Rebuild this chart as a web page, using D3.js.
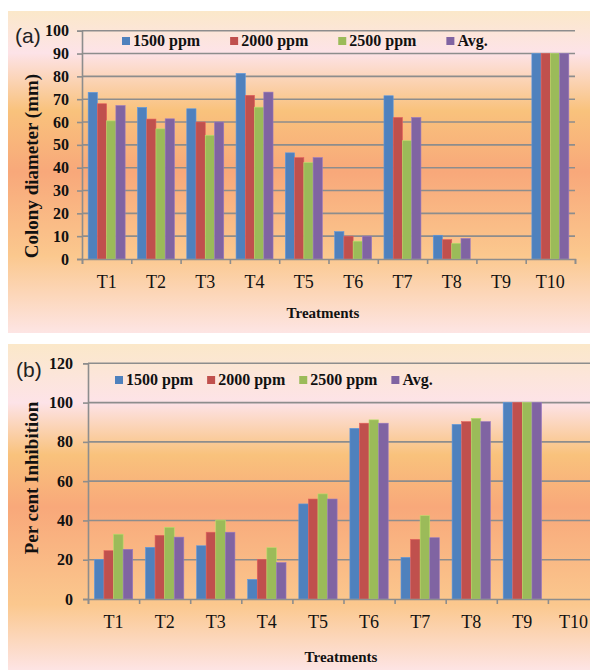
<!DOCTYPE html>
<html>
<head>
<meta charset="utf-8">
<script src="https://cdn.jsdelivr.net/npm/d3@7"></script>
<style>
  html, body { margin: 0; padding: 0; background: #fff; }
  svg { display: block; }
</style>
</head>
<body>
<div id="chart"></div>
<script>
// categories and series
const treatments = ['T1', 'T2', 'T3', 'T4', 'T5', 'T6', 'T7', 'T8', 'T9', 'T10'];
const seriesLabels = ['1500 ppm', '2000 ppm', '2500 ppm', 'Avg.'];
const seriesColors = ['#4f81bd', '#c0504d', '#9bbb59', '#8064a2'];

// (a) colony diameter, mm
const diam1500 = [73, 66.4, 65.8, 81.3, 46.5, 12, 71.5, 10.4, 0, 90];
const diam2000 = [68, 61.3, 60, 71.7, 44.4, 10, 62, 8.5, 0, 90];
const diam2500 = [60.5, 57, 54.2, 66.5, 42.2, 7.8, 51.8, 6.9, 0, 90];
const diamAvg = [67.2, 61.4, 60, 73.1, 44.4, 10, 62, 9, 0, 90];
const diamTicks = [0, 10, 20, 30, 40, 50, 60, 70, 80, 90, 100];

// (b) per cent inhibition
const inhib1500 = [20, 26.3, 27.1, 10, 48.4, 86.9, 21.2, 88.9, 100, 0];
const inhib2000 = [24.6, 32.4, 34, 20.2, 50.9, 89.5, 30.4, 90.3, 100, 0];
const inhib2500 = [33, 36.5, 40.2, 26.1, 53.5, 91.2, 42.4, 92, 100, 0];
const inhibAvg = [25.3, 31.5, 34, 18.5, 50.9, 89.5, 31.2, 90.3, 100, 0];
const inhibTicks = [0, 20, 40, 60, 80, 100, 120];

const W = 590;
const H = 670;
const serif = '"Liberation Serif", "Times New Roman", serif';
const gridColor = '#8d8d8d';

const svg = d3.select('#chart').append('svg')
  .attr('width', W)
  .attr('height', H);

const defs = svg.append('defs');

function addGradient(id, stops) {
  const g = defs.append('linearGradient')
    .attr('id', id)
    .attr('x1', 0).attr('y1', 0)
    .attr('x2', 0).attr('y2', 1);
  stops.forEach((s) => {
    g.append('stop').attr('offset', s[0]).attr('stop-color', s[1]);
  });
}

addGradient('bgA', [
  [0, '#fbe8c9'], [0.13, '#fde3e8'], [0.31, '#f9c27c'],
  [0.5, '#f8a87a'], [0.76, '#fbc88e'], [1, '#fde5e4'],
]);
addGradient('bgB', [
  [0, '#fbe8c9'], [0.18, '#fde3e8'], [0.34, '#f9c27c'],
  [0.5, '#f8a87a'], [0.8, '#fbc88e'], [1, '#fde4e4'],
]);

function drawPanel(p) {
  const root = svg.append('g');

  root.append('rect')
    .attr('x', p.bg.x).attr('y', p.bg.y)
    .attr('width', p.bg.w).attr('height', p.bg.h)
    .attr('fill', `url(#${p.gradient})`);

  const y = d3.scaleLinear().domain([0, p.max]).range([p.bottom, p.top]);
  const x0 = d3.scaleBand().domain(treatments).range([p.left, p.right]).padding(0);
  const x1 = d3.scaleBand().domain(seriesLabels)
    .range([0, x0.bandwidth()])
    .paddingInner(0)
    .paddingOuter(0.667);
  const xEdge = d3.scaleLinear().domain([0, treatments.length]).range([p.left, p.right]);

  // gridlines
  root.append('g')
    .selectAll('line')
    .data(p.ticks.slice(1))
    .enter().append('line')
    .attr('x1', p.left).attr('x2', p.right)
    .attr('y1', d => y(d)).attr('y2', d => y(d))
    .attr('stroke', gridColor)
    .attr('stroke-width', 1.6);

  // bars
  const rows = treatments.map((t, i) => ({
    t,
    vals: p.series.map((s, k) => ({ k, v: s[i] })),
  }));

  root.append('g')
    .selectAll('g')
    .data(rows)
    .enter().append('g')
    .attr('transform', d => `translate(${x0(d.t)},0)`)
    .selectAll('rect')
    .data(d => d.vals.filter(v => v.v > 0))
    .enter().append('rect')
    .attr('x', d => x1(seriesLabels[d.k]))
    .attr('width', x1.bandwidth())
    .attr('y', d => y(d.v))
    .attr('height', d => y(0) - y(d.v))
    .attr('fill', d => seriesColors[d.k])
    .attr('stroke', d => d3.color(seriesColors[d.k]).brighter(0.5))
    .attr('stroke-width', 0.6);

  // y axis
  const yAxis = root.append('g')
    .attr('transform', `translate(${p.left},0)`)
    .call(d3.axisLeft(y).tickValues(p.ticks).tickSize(5).tickPadding(p.labelPad));
  yAxis.select('.domain').attr('stroke', gridColor).attr('stroke-width', 1.6);
  yAxis.selectAll('.tick line').attr('stroke', gridColor).attr('stroke-width', 1.6);
  yAxis.selectAll('.tick text')
    .attr('fill', '#111')
    .style('font-family', serif)
    .style('font-weight', 'bold')
    .style('font-size', '16px');

  // x axis: edge ticks
  const xAxis = root.append('g')
    .attr('transform', `translate(0,${p.bottom})`)
    .call(d3.axisBottom(xEdge).tickValues(d3.range(treatments.length + 1))
      .tickSize(5).tickFormat(''));
  xAxis.select('.domain').attr('stroke', gridColor).attr('stroke-width', 1.6);
  xAxis.selectAll('.tick line').attr('stroke', gridColor).attr('stroke-width', 1.6);

  // category labels
  root.append('g')
    .selectAll('text')
    .data(treatments)
    .enter().append('text')
    .attr('x', d => x0(d) + x0.bandwidth() / 2)
    .attr('y', p.catY)
    .attr('text-anchor', 'middle')
    .attr('fill', '#111')
    .style('font-family', serif)
    .style('font-size', '18px')
    .text(d => d);

  // axis titles
  root.append('text')
    .attr('x', p.xTitle[0]).attr('y', p.xTitle[1])
    .attr('text-anchor', 'middle')
    .attr('fill', '#111')
    .style('font-family', serif)
    .style('font-weight', 'bold')
    .style('font-size', '15px')
    .text('Treatments');

  root.append('text')
    .attr('transform', `translate(${p.yTitle[0]},${p.yTitle[1]}) rotate(-90)`)
    .attr('text-anchor', 'middle')
    .attr('fill', '#111')
    .style('font-family', serif)
    .style('font-weight', 'bold')
    .style('font-size', '19px')
    .text(p.yLabel);

  // panel letter
  root.append('text')
    .attr('x', p.letter[0]).attr('y', p.letter[1])
    .attr('fill', '#222')
    .style('font-family', '"Liberation Sans", Arial, sans-serif')
    .style('font-size', '21px')
    .text(p.letterText);

  // legend
  const leg = root.append('g');
  let lx = p.legend[0];
  seriesLabels.forEach((s, k) => {
    leg.append('rect')
      .attr('x', lx).attr('y', p.legend[1] - 9)
      .attr('width', 8).attr('height', 8)
      .attr('fill', seriesColors[k]);
    const t = leg.append('text')
      .attr('x', lx + 11).attr('y', p.legend[1])
      .attr('fill', '#111')
      .style('font-family', serif)
      .style('font-weight', 'bold')
      .style('font-size', '16px')
      .text(s);
    lx += 11 + t.node().getComputedTextLength() + p.legendGap;
  });
}

drawPanel({
  gradient: 'bgA',
  bg: { x: 8, y: 11, w: 582, h: 322 },
  left: 82, right: 575, top: 30.7, bottom: 259,
  max: 100,
  ticks: diamTicks,
  series: [diam1500, diam2000, diam2500, diamAvg],
  labelPad: 8,
  catY: 288,
  xTitle: [323, 318],
  yTitle: [38, 166],
  yLabel: 'Colony diameter (mm)',
  letter: [15, 43],
  letterText: '(a)',
  legend: [122, 46],
  legendGap: 30,
});

drawPanel({
  gradient: 'bgB',
  bg: { x: 8, y: 344, w: 582, h: 326 },
  left: 88, right: 599, top: 363.3, bottom: 599,
  max: 120,
  ticks: inhibTicks,
  series: [inhib1500, inhib2000, inhib2500, inhibAvg],
  labelPad: 10,
  catY: 628,
  xTitle: [341, 662],
  yTitle: [38, 478],
  yLabel: 'Per cent Inhibition',
  letter: [16, 377],
  letterText: '(b)',
  legend: [115, 385],
  legendGap: 14,
});
</script>
</body>
</html>
